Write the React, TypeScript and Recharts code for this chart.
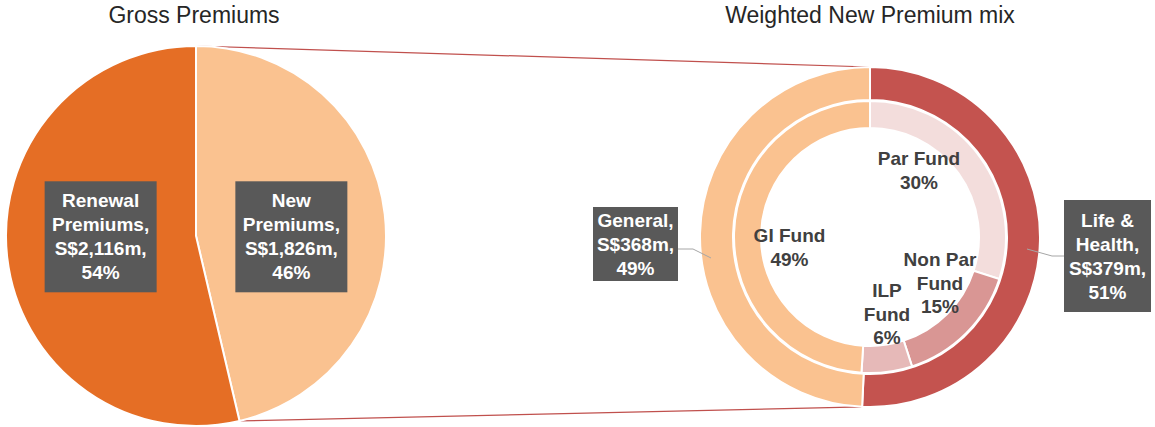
import React from 'react';
import { PieChart, Pie, Cell, Customized } from 'recharts';

// ---------- data ----------
const grossNames = ['New Premiums', 'Renewal Premiums'];
const grossValues = [1826, 2116];

const segmentNames = ['Life & Health', 'General'];
const segmentValues = [379, 368];

const fundNames = ['Par Fund', 'Non Par Fund', 'ILP Fund', 'GI Fund'];
const fundValues = [30, 15, 6, 49];

const titles = ['Gross Premiums', 'Weighted New Premium mix'];

// ---------- styles / layout ----------
const grossColors = ['#FAC290', '#E56E25'];
const segmentColors = ['#C4534F', '#FAC290'];
const fundColors = ['#F3DDDC', '#D99694', '#E6B9B8', '#FAC290'];

const W = 1155;
const H = 427;
const LEFT = { cx: 196, cy: 236, r: 190 };
const RIGHT = { cx: 870, cy: 237, outerR: 170, outerIn: 137, innerR: 136, innerIn: 109 };
const FONT = '"Liberation Sans", Arial, Helvetica, sans-serif';
const LINE = 24;
const RAD = Math.PI / 180;

const grossBox = { r: 96, w: 112, h: 111 };

const segmentLayout: Record<string, any> = {
  'Life & Health': { dx: 237.5, dy: 19, w: 87, h: 112, leader: [[194, 19], [182, 19], [157, 12]] },
  General: { dx: -234.5, dy: 7, w: 85, h: 74, leader: [[-192, 12], [-177, 12], [-159, 21]] },
};

const fundLayout: Record<string, any> = {
  'Par Fund': { dx: 49, dy: -72, wrap: false },
  'Non Par Fund': { dx: 70, dy: 29, wrap: true },
  'ILP Fund': { dx: 17, dy: 60, wrap: true },
  'GI Fund': { dx: -80.5, dy: 5, wrap: false },
};

const grossData = grossNames.map((name, i) => ({ name, value: grossValues[i] }));
const segmentData = segmentNames.map((name, i) => ({ name, value: segmentValues[i] }));
const fundData = fundNames.map((name, i) => ({ name, value: fundValues[i] }));

function splitName(name: string): string[] {
  const idx = name.lastIndexOf(' ');
  if (idx < 0) return [name];
  return [name.slice(0, idx), name.slice(idx + 1)];
}

const money = (v: number) => `S$${v.toLocaleString('en-US')}m,`;
const pctText = (p: number) => `${Math.round(p * 100)}%`;

function BoxLabel({ x, y, w, h, lines }: { x: number; y: number; w: number; h: number; lines: string[] }) {
  const first = y - ((lines.length - 1) * LINE) / 2 + 6.5;
  return (
    <g>
      <rect x={x - w / 2} y={y - h / 2} width={w} height={h} fill="#595959" />
      <text x={x} y={first} textAnchor="middle" fill="#ffffff" fontFamily={FONT} fontSize={19} fontWeight="bold">
        {lines.map((l, i) => (
          <tspan key={i} x={x} dy={i === 0 ? 0 : LINE}>
            {l}
          </tspan>
        ))}
      </text>
    </g>
  );
}

const getName = (p: any) => (p.payload && p.payload.name) || p.name;

const renderGrossLabel = (p: any) => {
  const name = getName(p);
  const value = grossData.find((d) => d.name === name)!.value;
  const x = p.cx + grossBox.r * Math.cos(-p.midAngle * RAD);
  const y = p.cy + 0.8;
  const nameLines = splitName(name);
  nameLines[nameLines.length - 1] += ',';
  const lines = [...nameLines, money(value), pctText(p.percent)];
  return <BoxLabel key={name} x={x} y={y} w={grossBox.w} h={grossBox.h} lines={lines} />;
};

const renderSegmentLabel = (p: any) => {
  const name = getName(p);
  const value = segmentData.find((d) => d.name === name)!.value;
  const lay = segmentLayout[name];
  const nameLines = splitName(name === 'General' ? name : name);
  if (name === 'General') nameLines.splice(0, nameLines.length, name);
  nameLines[nameLines.length - 1] += ',';
  const lines = [...nameLines, money(value), pctText(p.percent)];
  const pts = lay.leader.map(([dx, dy]: number[]) => `${p.cx + dx},${p.cy + dy}`).join(' ');
  return (
    <g key={name}>
      <polyline points={pts} fill="none" stroke="#A6A6A6" strokeWidth={1} />
      <BoxLabel x={p.cx + lay.dx} y={p.cy + lay.dy} w={lay.w} h={lay.h} lines={lines} />
    </g>
  );
};

const renderFundLabel = (p: any) => {
  const name = getName(p);
  const lay = fundLayout[name];
  const lines = [...(lay.wrap ? splitName(name) : [name]), pctText(p.percent)];
  const x = p.cx + lay.dx;
  const y = p.cy + lay.dy;
  return (
    <text key={name} x={x} y={y} textAnchor="middle" fill="#404040" fontFamily={FONT} fontSize={19} fontWeight="bold">
      {lines.map((l, i) => (
        <tspan key={i} x={x} dy={i === 0 ? 0 : 23.5}>
          {l}
        </tspan>
      ))}
    </text>
  );
};

const Overlay = () => {
  const grossTotal = grossValues.reduce((a, b) => a + b, 0);
  const segTotal = segmentValues.reduce((a, b) => a + b, 0);
  const a1 = (grossValues[0] / grossTotal) * 2 * Math.PI;
  const a2 = (segmentValues[0] / segTotal) * 2 * Math.PI;
  const lTop = [LEFT.cx, LEFT.cy - LEFT.r];
  const lBot = [LEFT.cx + LEFT.r * Math.sin(a1), LEFT.cy - LEFT.r * Math.cos(a1)];
  const rTop = [RIGHT.cx, RIGHT.cy - RIGHT.outerR];
  const rBot = [RIGHT.cx + RIGHT.outerR * Math.sin(a2), RIGHT.cy - RIGHT.outerR * Math.cos(a2)];
  return (
    <g>
      <line x1={lTop[0]} y1={lTop[1]} x2={rTop[0]} y2={rTop[1]} stroke="#C0504D" strokeWidth={1.2} />
      <line x1={lBot[0]} y1={lBot[1]} x2={rBot[0]} y2={rBot[1]} stroke="#C0504D" strokeWidth={1.2} />
      <text x={LEFT.cx - 2} y={23} textAnchor="middle" fill="#262626" fontFamily={FONT} fontSize={23}>
        {titles[0]}
      </text>
      <text x={RIGHT.cx} y={23} textAnchor="middle" fill="#262626" fontFamily={FONT} fontSize={23}>
        {titles[1]}
      </text>
    </g>
  );
};

export default function App() {
  return (
    <div style={{ position: 'absolute', left: 0, top: 0, width: W, height: H, background: '#fff' }}>
      <PieChart width={W} height={H} margin={{ top: 0, right: 0, bottom: 0, left: 0 }}>
        <Pie
          data={grossData}
          dataKey="value"
          nameKey="name"
          cx={LEFT.cx}
          cy={LEFT.cy}
          innerRadius={0}
          outerRadius={LEFT.r}
          startAngle={90}
          endAngle={-270}
          stroke="#ffffff"
          strokeWidth={2}
          label={renderGrossLabel}
          labelLine={false}
          isAnimationActive={false}
        >
          {grossData.map((d, i) => (
            <Cell key={d.name} fill={grossColors[i]} />
          ))}
        </Pie>
        <Pie
          data={segmentData}
          dataKey="value"
          nameKey="name"
          cx={RIGHT.cx}
          cy={RIGHT.cy}
          innerRadius={RIGHT.outerIn}
          outerRadius={RIGHT.outerR}
          startAngle={90}
          endAngle={-270}
          stroke="#ffffff"
          strokeWidth={2}
          label={renderSegmentLabel}
          labelLine={false}
          isAnimationActive={false}
        >
          {segmentData.map((d, i) => (
            <Cell key={d.name} fill={segmentColors[i]} />
          ))}
        </Pie>
        <Pie
          data={fundData}
          dataKey="value"
          nameKey="name"
          cx={RIGHT.cx}
          cy={RIGHT.cy}
          innerRadius={RIGHT.innerIn}
          outerRadius={RIGHT.innerR}
          startAngle={90}
          endAngle={-270}
          stroke="#ffffff"
          strokeWidth={2}
          label={renderFundLabel}
          labelLine={false}
          isAnimationActive={false}
        >
          {fundData.map((d, i) => (
            <Cell key={d.name} fill={fundColors[i]} />
          ))}
        </Pie>
        <Customized component={Overlay} />
      </PieChart>
    </div>
  );
}
